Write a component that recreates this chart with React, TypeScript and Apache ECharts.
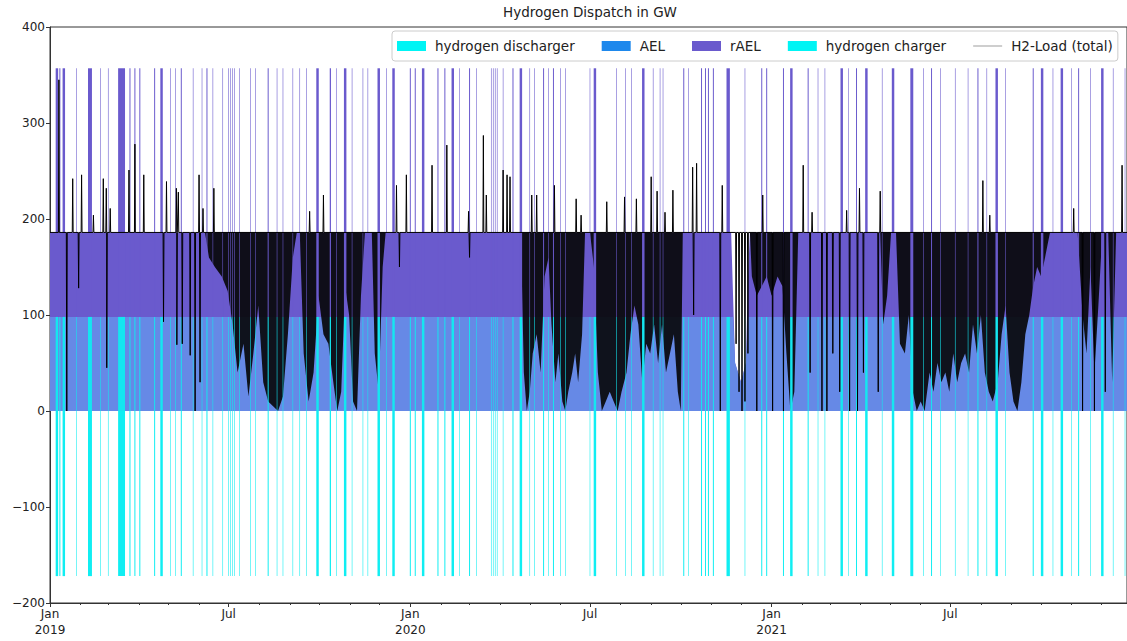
import React, { useEffect, useRef } from "react";
import * as echarts from "echarts";

// ---- axis ticks (day offsets from 2019-01-01) ----
const monthStartDays = [0, 31, 59, 90, 120, 151, 181, 212, 243, 273, 304, 334, 365, 396, 425, 456, 486, 517, 547, 578, 609, 639, 670, 700, 731, 762, 790, 821, 851, 882, 912, 943, 974, 1004, 1035, 1065];
const majorTickDays = [0, 181, 365, 547, 731, 912];
const majorTickLabels = ["Jan\n2019", "Jul", "Jan\n2020", "Jul", "Jan\n2021", "Jul"];
const yTicks = [-200, -100, 0, 100, 200, 300, 400];

// ---- electrolysis base production (GW) ----
const prodDays = [0, 690, 692, 694, 700, 705, 707, 709, 1091];
const aelGW = [98, 98, 98, 50, 30, 50, 98, 98, 98];
const raelGW = [88, 88, 20, 0, 0, 0, 40, 88, 88];

// ---- full-load hours (spikes): day, duration in hours ----
const spikeDay = [7, 10, 14, 27, 40.5, 51, 59, 72.5, 81, 86, 91, 106, 113, 122, 127, 133, 145, 154, 159, 165, 175, 181, 183, 185, 187, 192, 203, 208, 221, 230, 236, 246, 253, 260, 271, 284, 290, 299, 306, 317, 322, 333, 341, 348, 365, 370, 378, 393, 400, 408, 415, 425, 432, 447, 449, 451, 453, 459, 469, 477, 486, 491, 500, 505, 510, 517, 522, 547, 552, 574, 583, 589, 601, 611, 618, 621, 642, 647, 660, 664, 667, 672, 687, 704, 721, 726, 743, 751, 768, 778, 785, 802, 809, 817, 827, 843, 854, 873, 885, 893, 902, 917, 930, 940, 949, 959, 968, 996, 1005, 1016, 1025, 1035, 1042, 1054, 1066, 1077, 1089];
const spikeHours = [60, 24, 60, 14, 96, 14, 14, 168, 24, 24, 24, 24, 60, 14, 14, 24, 14, 14, 24, 14, 14, 14, 14, 14, 14, 14, 14, 14, 24, 14, 14, 14, 14, 14, 60, 30, 14, 60, 14, 14, 14, 60, 14, 60, 24, 24, 60, 24, 24, 60, 14, 24, 14, 14, 14, 14, 14, 14, 24, 60, 14, 14, 24, 14, 24, 14, 14, 14, 60, 14, 14, 14, 60, 14, 14, 14, 24, 14, 24, 24, 24, 24, 82, 14, 24, 24, 24, 60, 24, 14, 14, 60, 14, 24, 60, 14, 60, 72, 14, 24, 14, 14, 14, 24, 14, 60, 14, 24, 60, 14, 60, 14, 24, 14, 60, 14, 14];
const raelPeakGW = 357;
const chargerPeakGW = -172;

// ---- H2 load: dense envelope (day, lowest value) ----
const loadEnvDays = [0, 157, 161, 167, 174, 180, 185, 190, 196, 201, 206, 211, 216, 221, 226, 231, 236, 241, 246, 250, 253, 257, 262, 267, 272, 277, 282, 287, 291, 295, 299, 303, 307, 311, 315, 319, 326, 329, 333, 337, 340, 477, 480, 483, 486, 489, 493, 497, 501, 505, 508, 512, 515, 519, 522, 525, 529, 532, 535, 539, 542, 547, 551, 555, 559, 563, 567, 571, 575, 579, 584, 588, 592, 596, 600, 604, 608, 612, 616, 620, 624, 628, 632, 636, 639, 641, 709, 711, 716, 721, 726, 731, 737, 742, 746, 750, 754, 758, 841, 844, 848, 852, 857, 861, 866, 870, 874, 878, 882, 886, 891, 895, 899, 903, 907, 911, 915, 919, 923, 927, 931, 935, 939, 943, 947, 951, 955, 960, 964, 968, 972, 976, 980, 984, 988, 992, 996, 1000, 1004, 1008, 1013, 1041, 1046, 1050, 1054, 1058, 1062, 1066, 1072, 1076, 1080, 1091];
const loadEnvLow = [186, 186, 160, 150, 140, 125, 90, 40, 70, 15, 60, 110, 30, 10, 5, 0, 15, 80, 160, 186, 186, 60, 10, 40, 120, 80, 70, 30, 0, 20, 130, 100, 10, 0, 120, 186, 186, 60, 20, 150, 186, 186, 40, 0, 20, 60, 80, 40, 140, 160, 90, 30, 60, 10, 0, 20, 40, 60, 30, 80, 186, 186, 150, 40, 0, 10, 20, 10, 0, 20, 40, 80, 110, 90, 30, 70, 60, 90, 50, 90, 40, 60, 80, 20, 0, 186, 186, 140, 120, 130, 140, 120, 140, 130, 60, 0, 20, 186, 186, 90, 120, 186, 186, 70, 60, 100, 20, 0, 10, 0, 40, 20, 50, 30, 40, 20, 60, 30, 50, 60, 40, 90, 60, 100, 40, 20, 10, 30, 80, 110, 40, 10, 0, 30, 80, 100, 130, 150, 140, 160, 186, 186, 100, 60, 150, 40, 110, 186, 186, 30, 186, 186];
const loadBaseGW = 186;

// ---- H2 load: single excursions (day, value) ----
const loadPeakDays = [9, 23, 32, 44, 54, 57, 61, 80, 86, 95, 118, 128, 130, 151, 155, 166, 263, 277, 351, 361, 387, 402, 424, 439, 442, 459, 463, 466, 488, 493, 511, 533, 538, 564, 582, 594, 609, 615, 623, 631, 651, 655, 681, 722, 763, 772, 807, 820, 841, 945, 952, 1037, 1086];
const loadPeakGW = [345, 242, 246, 204, 242, 232, 211, 251, 278, 246, 239, 232, 228, 246, 211, 232, 208, 225, 235, 246, 256, 277, 208, 287, 225, 251, 246, 244, 225, 225, 235, 221, 204, 218, 223, 221, 244, 229, 207, 230, 254, 258, 235, 225, 256, 207, 209, 232, 229, 240, 204, 211, 256];
const loadDipDays = [17, 29, 57.5, 115, 128.5, 134, 142, 147, 152, 354, 425, 652, 679, 695, 698, 701, 704, 707, 716, 732, 743, 770, 782, 787, 793, 800, 810, 818, 824, 839, 1046, 1058, 1069];
const loadDipGW = [0, 128, 45, 93, 69, 70, 58, 0, 30, 150, 160, 100, 0, 70, 20, 0, 10, 60, 0, 0, 0, 40, 0, 0, 60, 20, 0, 0, 40, 20, 0, 0, 20];

const FONT = "DejaVu Sans";

export default function App() {
  const ref = useRef<HTMLDivElement>(null);
  useEffect(() => {
    if (!ref.current) return;
    const chart = echarts.init(ref.current, null, { renderer: "svg" });

    const spikeData = spikeDay.map((d, i) => [d, spikeHours[i]]);
    const mkSpike = (lo: number, hi: number, color: string) => (params: any, api: any) => {
      const d = api.value(0);
      const h = api.value(1);
      const p0 = api.coord([d - h / 48, lo]);
      const p1 = api.coord([d + h / 48, hi]);
      const x = Math.min(p0[0], p1[0]);
      const y = Math.min(p0[1], p1[1]);
      return {
        type: "rect",
        shape: { x, y, width: Math.abs(p1[0] - p0[0]), height: Math.abs(p1[1] - p0[1]) },
        style: { fill: color },
      };
    };

    // envelope band polygon: from the low envelope up to the base load level
    const bandRender = (params: any, api: any) => {
      if (params.dataIndex !== 0) return null;
      const pts: number[][] = [];
      loadEnvDays.forEach((d, i) => pts.push(api.coord([d, loadEnvLow[i]])));
      for (let i = loadEnvDays.length - 1; i >= 0; i--) pts.push(api.coord([loadEnvDays[i], loadBaseGW]));
      return { type: "polygon", shape: { points: pts }, style: { fill: "#060606", opacity: 0.9 } };
    };

    const events = [
      ...loadPeakDays.map((d, i) => [d, loadPeakGW[i]]),
      ...loadDipDays.map((d, i) => [d, loadDipGW[i]]),
    ].sort((a, b) => a[0] - b[0]);
    const loadLine: number[][] = [[0, loadBaseGW]];
    events.forEach(([d, v]) => {
      loadLine.push([d - 0.45, loadBaseGW], [d, v], [d + 0.45, loadBaseGW]);
    });
    loadLine.push([1091, loadBaseGW]);

    const option: any = {
      animation: false,
      backgroundColor: "#ffffff",
      title: {
        text: "Hydrogen Dispatch in GW",
        left: 590,
        textAlign: "center",
        top: 5,
        padding: 0,
        textStyle: { fontFamily: FONT, fontSize: 13.5, fontWeight: "normal", color: "#222" },
      },
      legend: {
        left: 392,
        top: 31,
        padding: [8, 5, 8, 5],
        itemWidth: 29,
        itemHeight: 10,
        itemGap: 27,
        backgroundColor: "rgba(255,255,255,0.85)",
        borderColor: "#cccccc",
        borderWidth: 1,
        borderRadius: 3,
        selectedMode: false,
        textStyle: { fontFamily: FONT, fontSize: 13.5, color: "#222", padding: [0, 0, 0, 4] },
        data: [
          { name: "hydrogen discharger", icon: "rect", itemStyle: { color: "#00f4f4" } },
          { name: "AEL", icon: "rect", itemStyle: { color: "#1e88ec" } },
          { name: "rAEL", icon: "rect", itemStyle: { color: "#6a5acd" } },
          { name: "hydrogen charger", icon: "rect", itemStyle: { color: "#00f4f4" } },
          { name: "H2-Load (total)", icon: "path://M0,0H30V1H0Z", itemStyle: { color: "#9a9a9a" } },
        ],
      },
      grid: {
        left: 50,
        right: 0,
        top: 27,
        bottom: 38,
        show: true,
        borderColor: "#333",
        borderWidth: 1,
        backgroundColor: "transparent",
      },
      xAxis: [
        {
          type: "value",
          min: 0,
          max: 1091,
          position: "bottom",
          splitLine: { show: false },
          axisLine: { show: true, onZero: false, lineStyle: { color: "#333", width: 1 } },
          axisTick: { show: true, length: 4, customValues: majorTickDays, lineStyle: { color: "#333" } },
          axisLabel: {
            show: true,
            customValues: majorTickDays,
            margin: 3,
            lineHeight: 16,
            fontFamily: FONT,
            fontSize: 12,
            color: "#222",
            formatter: (v: number) => {
              const i = majorTickDays.indexOf(Math.round(v));
              return i >= 0 ? majorTickLabels[i] : "";
            },
          },
        },
        {
          type: "value",
          min: 0,
          max: 1091,
          position: "bottom",
          splitLine: { show: false },
          axisLine: { show: false, onZero: false },
          axisTick: { show: true, length: 2, customValues: monthStartDays, lineStyle: { color: "#333" } },
          axisLabel: { show: false },
        },
      ],
      yAxis: {
        type: "value",
        min: -200,
        max: 400,
        interval: 100,
        splitLine: { show: false },
        axisLine: { show: true, onZero: false, lineStyle: { color: "#333", width: 1 } },
        axisTick: { show: true, length: 4, lineStyle: { color: "#333" } },
        axisLabel: {
          margin: 5,
          fontFamily: FONT,
          fontSize: 12,
          color: "#222",
          formatter: (v: number) => (yTicks.includes(v) ? (v < 0 ? "\u2212" + Math.abs(v) : String(v)) : ""),
        },
      },
      series: [
        {
          name: "rAEL",
          type: "line",
          symbol: "none",
          z: 1,
          itemStyle: { color: "#6a5acd" },
          lineStyle: { width: 0 },
          areaStyle: { color: "#6a5acd", opacity: 1 },
          data: prodDays.map((d, i) => [d, aelGW[i] + raelGW[i]]),
        },
        {
          name: "AEL",
          type: "line",
          symbol: "none",
          z: 1.5,
          itemStyle: { color: "#1e88ec" },
          lineStyle: { width: 0 },
          areaStyle: { color: "#6689e6", opacity: 1 },
          data: prodDays.map((d, i) => [d, aelGW[i]]),
        },
        {
          name: "H2-Load (total)",
          type: "custom",
          z: 2,
          clip: true,
          renderItem: bandRender,
          data: [[loadEnvDays[0], loadEnvLow[0]]],
        },
        {
          name: "rAEL",
          type: "custom",
          z: 3,
          clip: true,
          renderItem: mkSpike(aelGW[0], raelPeakGW, "#6a5acd"),
          data: spikeData,
        },
        {
          name: "hydrogen discharger",
          type: "custom",
          z: 3,
          clip: true,
          renderItem: mkSpike(0, aelGW[0], "#14e6f0"),
          data: spikeData,
        },
        {
          name: "hydrogen charger",
          type: "custom",
          z: 3,
          clip: true,
          renderItem: mkSpike(chargerPeakGW, 0, "#10eef2"),
          data: spikeData,
        },
        {
          name: "H2-Load (total)",
          type: "line",
          symbol: "none",
          z: 4,
          itemStyle: { color: "#000" },
          lineStyle: { color: "#000", width: 1 },
          data: loadLine,
        },
      ],
    };
    chart.setOption(option);
    return () => chart.dispose();
  }, []);

  return (
    <div
      ref={ref}
      style={{ position: "absolute", left: 0, top: 0, width: 1127, height: 641, background: "#fff" }}
    />
  );
}
